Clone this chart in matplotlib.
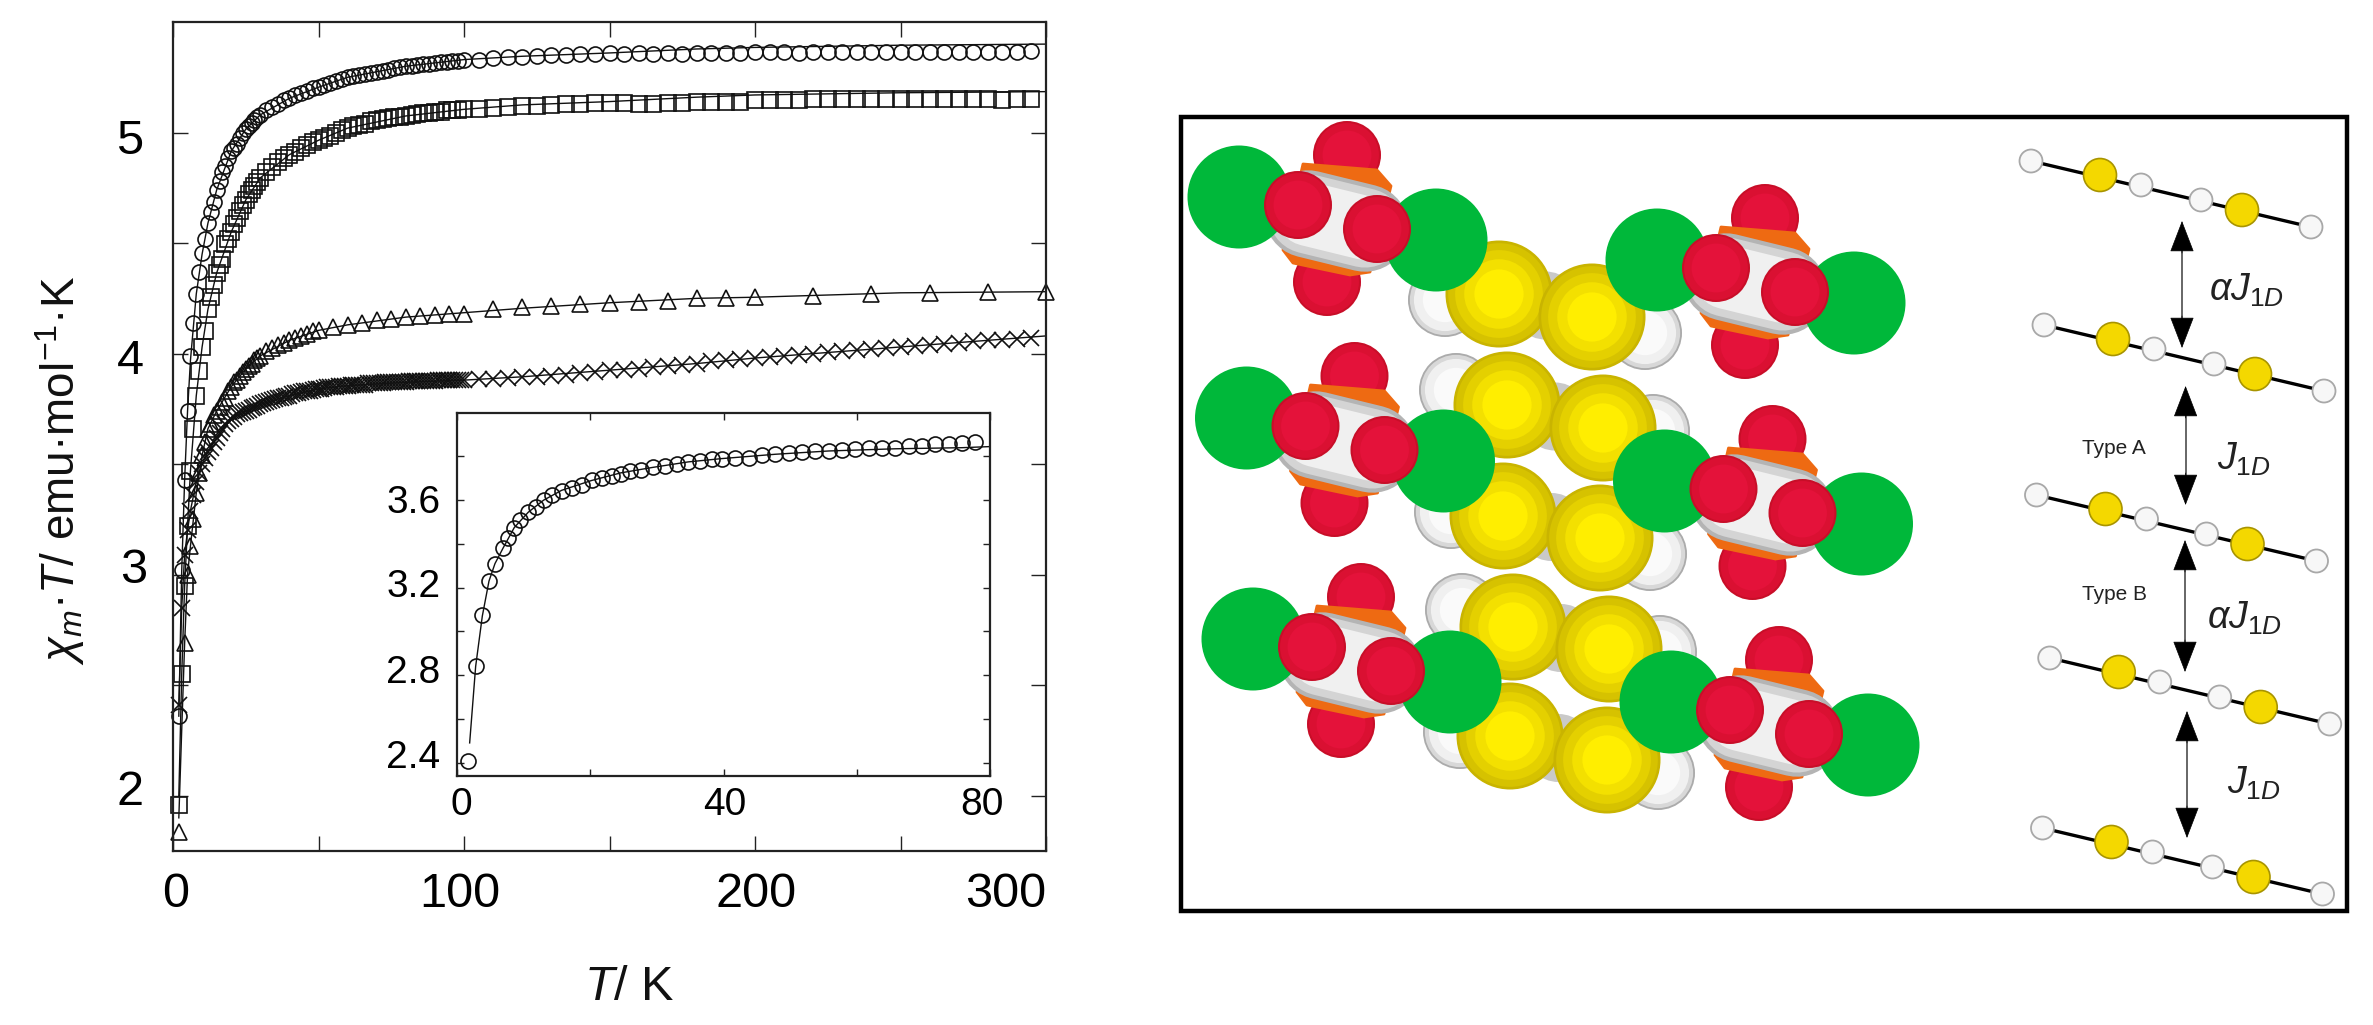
import matplotlib
matplotlib.use('Agg')
import matplotlib.pyplot as plt
from matplotlib.patches import Circle, Polygon, Rectangle, FancyArrowPatch
from matplotlib.transforms import ScaledTranslation

plt.rcParams['font.family'] = ['Liberation Sans', 'DejaVu Sans']
plt.rcParams['mathtext.fontset'] = 'custom'
plt.rcParams['mathtext.rm'] = 'Liberation Sans'
plt.rcParams['mathtext.it'] = 'Liberation Sans:italic'
plt.rcParams['mathtext.bf'] = 'Liberation Sans:bold'

# ---------------- main plot data ----------------
T_low = [2,3,4,5,6,7,8,9,10,11,12,13,14,15,16,17,18,19,20,21,22,23,24,25,26,27,28,29,30,
         32,34,36,38,40,42,44,46,48,50,52,54,56,58,60,62,64,66,68,70,72,74,76,78,80,
         82,84,86,88,90,92,94,96,98,100]
T_high = [105,110,115,120,125,130,135,140,145,150,155,160,165,170,175,180,185,190,195,200,
          205,210,215,220,225,230,235,240,245,250,255,260,265,270,275,280,285,290,295]
circ_low = [2.36,3.02,3.43,3.74,3.99,4.14,4.27,4.37,4.455,4.52,4.59,4.64,4.685,4.74,4.78,4.82,4.85,4.885,4.915,
            4.93,4.95,4.975,5.0,5.015,5.03,5.045,5.055,5.07,5.08,5.10,5.115,5.13,5.145,5.155,5.17,5.18,5.19,5.20,
            5.205,5.215,5.225,5.235,5.24,5.25,5.255,5.26,5.265,5.27,5.275,5.28,5.285,5.29,5.295,5.30,5.30,5.305,
            5.31,5.31,5.315,5.32,5.32,5.325,5.325,5.33]
circ_high = [5.33,5.335,5.34,5.34,5.345,5.35,5.35,5.355,5.355,5.36,5.355,5.36,5.355,5.36,5.355,5.36,5.36,5.36,5.36,
             5.365,5.365,5.365,5.36,5.365,5.365,5.365,5.365,5.365,5.365,5.365,5.365,5.365,5.365,5.365,5.365,5.365,
             5.365,5.365,5.37]
sq_low = [1.96,2.55,2.95,3.22,3.47,3.66,3.81,3.92,4.03,4.10,4.20,4.255,4.31,4.365,4.40,4.43,4.495,4.52,4.55,4.585,
          4.615,4.645,4.67,4.695,4.72,4.74,4.76,4.775,4.795,4.82,4.845,4.865,4.885,4.90,4.91,4.93,4.945,4.955,4.965,
          4.975,4.985,5.0,5.01,5.02,5.03,5.035,5.04,5.05,5.055,5.06,5.065,5.07,5.07,5.075,5.08,5.085,5.09,5.09,5.095,
          5.095,5.10,5.10,5.10,5.105]
sq_high = [5.105,5.11,5.115,5.12,5.12,5.125,5.13,5.13,5.135,5.135,5.135,5.13,5.13,5.135,5.135,5.14,5.14,5.14,5.14,
           5.145,5.145,5.145,5.145,5.15,5.15,5.15,5.15,5.15,5.15,5.15,5.15,5.15,5.15,5.15,5.15,5.15,5.145,5.15,5.15]
cross_low = [2.41,2.85,3.09,3.20,3.29,3.36,3.42,3.46,3.50,3.53,3.555,3.575,3.60,3.62,3.64,3.66,3.68,3.695,3.705,3.715,
             3.725,3.73,3.735,3.74,3.745,3.755,3.76,3.765,3.77,3.78,3.79,3.80,3.805,3.81,3.82,3.825,3.83,3.835,3.84,
             3.845,3.85,3.85,3.855,3.855,3.86,3.86,3.86,3.865,3.865,3.865,3.87,3.87,3.87,3.87,3.875,3.875,3.875,3.875,
             3.875,3.88,3.88,3.88,3.88,3.88]
T_cross_extra = [31,33,35,37,39,41,43,45,47,49,51,53,55,57,59,61,63,65,67,69,71,73,75,77,79,81,83,85,87,89,91,93,95,97,99]
cross_extra = [3.775,3.785,3.795,3.80,3.81,3.815,3.82,3.83,3.83,3.84,3.84,3.85,3.85,3.855,3.855,3.86,3.86,3.86,3.865,
               3.865,3.865,3.87,3.87,3.87,3.87,3.875,3.875,3.875,3.875,3.875,3.88,3.88,3.88,3.88,3.88]
cross_high = [3.885,3.885,3.89,3.895,3.895,3.90,3.905,3.91,3.915,3.925,3.925,3.93,3.94,3.945,3.95,3.955,3.965,3.97,3.975,
              3.98,3.985,3.99,3.995,4.0,4.005,4.01,4.015,4.02,4.025,4.03,4.035,4.04,4.045,4.05,4.055,4.06,4.06,4.065,4.07]
T_tri = [2,4,5,6,7,8,9,10,11,12,13,14,15,16,17,18,19,20,21,22,23,24,25,26,27,28,29,30,32,34,36,38,40,42,44,46,48,50,
         55,60,65,70,75,80,85,90,95,100,110,120,130,140,150,160,170,180,190,200,220,240,260,280,300]
tri_vals = [1.835,2.69,3.00,3.13,3.25,3.37,3.46,3.54,3.60,3.66,3.68,3.72,3.74,3.76,3.78,3.80,3.83,3.85,3.87,3.88,
            3.90,3.915,3.93,3.945,3.955,3.97,3.98,3.99,4.01,4.025,4.04,4.05,4.06,4.07,4.08,4.09,4.10,4.105,
            4.12,4.13,4.14,4.15,4.155,4.165,4.17,4.175,4.18,4.18,4.20,4.21,4.215,4.225,4.23,4.235,4.24,4.25,4.25,
            4.255,4.26,4.27,4.275,4.28,4.28]
T_fit = [2,3,4,5,6,8,10,12,15,20,25,30,40,50,60,80,100,120,150,180,200,250,300]
fit_circ = [2.36,3.02,3.43,3.74,3.97,4.27,4.45,4.59,4.74,4.915,5.015,5.08,5.155,5.205,5.25,5.30,5.33,5.345,5.36,5.378,5.385,5.395,5.40]
fit_sq = [2.0,2.55,2.95,3.22,3.47,3.81,4.03,4.20,4.365,4.55,4.695,4.795,4.90,4.965,5.02,5.075,5.105,5.125,5.14,5.16,5.17,5.18,5.185]
fit_tri = [1.9,2.30,2.69,3.0,3.13,3.37,3.54,3.66,3.74,3.85,3.93,3.99,4.06,4.105,4.13,4.165,4.185,4.205,4.23,4.25,4.255,4.275,4.28]
fit_cross = [2.41,2.85,3.09,3.20,3.29,3.42,3.50,3.555,3.62,3.705,3.74,3.77,3.81,3.84,3.855,3.87,3.88,3.895,3.925,3.955,3.98,4.03,4.08]

# ---------------- inset data ----------------
T_in = [1.7,2.8,3.8,4.8,5.7,6.9,7.7,8.6,9.5,10.7,11.9,13,14.2,15.7,17.2,18.7,20.2,21.7,23.2,24.6,26,27.6,29.4,31.2,33,34.7,
        36.4,38.2,39.7,41.8,43.8,45.8,47.8,49.8,51.8,53.8,55.8,57.8,59.8,61.8,63.8,65.8,67.8,69.8,71.8,73.8,75.8,77.8]
val_in = [2.406,2.84,3.076,3.232,3.31,3.38,3.425,3.475,3.51,3.545,3.57,3.60,3.625,3.64,3.657,3.67,3.69,3.70,3.71,3.72,3.733,
          3.74,3.75,3.755,3.765,3.773,3.78,3.787,3.79,3.795,3.795,3.805,3.81,3.817,3.82,3.825,3.827,3.83,3.835,3.84,3.84,
          3.84,3.85,3.85,3.855,3.857,3.86,3.865]
T_in_fit = [1.9,2.8,3.8,4.8,5.7,6.9,8.6,10.7,13,15.7,20.2,24.6,29.4,34.7,39.7,47.8,55.8,65.8,75.8,80]
val_in_fit = [2.49,2.84,3.07,3.23,3.31,3.38,3.475,3.545,3.60,3.645,3.69,3.725,3.75,3.775,3.79,3.81,3.825,3.835,3.84,3.845]

# ---------------- text ----------------
main_xticks = [0, 100, 200, 300]
main_xminor = [50, 150, 250]
main_yticks = [2, 3, 4, 5]
main_yminor = [2.5, 3.5, 4.5]
in_xticks = [0, 40, 80]
in_xminor = [20, 60]
in_yticks = [2.4, 2.8, 3.2, 3.6]
in_ylabels = ['2.4', '2.8', '3.2', '3.6']
in_yminor = [2.6, 3.0, 3.4, 3.8]
xlabel_text = r'$\mathit{T}$/ K'
ylabel_text = r'$\chi_{\mathit{m}}$·$\mathit{T}$/ emu·mol$^{-1}$·K'

# ---------------- crystal picture (pixel coordinates of the sketch) ----------------
anion_offsets = [(0, 0), (418, 63), (7.5, 221), (425.5, 284), (14, 442), (432, 505)]
red_back = [(1347, 155), (1327, 282)]
red_front = [(1298, 205), (1377, 229)]
greens = [(1239, 197), (1436, 240)]
orange_poly = [(1303, 164), (1377, 170), (1391, 186), (1370, 272), (1350, 275), (1293, 263), (1283, 250)]
body_axis = [(1308, 214), (1365, 228)]
yellow_pairs = [((1499, 294), (1592, 317)), ((1507, 405), (1603, 428)), ((1503, 516), (1600, 538)),
                ((1513, 627), (1609, 649)), ((1510, 736), (1607, 760))]
white_atoms = [(1445, 300), (1645, 333), (1456, 390), (1653, 431), (1451, 512), (1650, 554),
               (1462, 610), (1660, 652), (1460, 732), (1658, 773)]
# chains on the right
chain_offsets = [(0, 0), (13, 164), (5.5, 334), (18.7, 497), (11.5, 667)]
chain_ends = [(2031, 161), (2311, 227)]
chain_yellow = [(2100, 175), (2242, 210)]
chain_white = [(2141, 185), (2201, 200)]
arrows = [(2182, 221, 348), (2185.6, 386, 505), (2185, 540, 672), (2187, 711, 838)]
coupling_labels = [(2246, 290, r'$\alpha\mathit{J}_{\mathit{1D}}$'), (2244, 459, r'$\mathit{J}_{\mathit{1D}}$'),
                   (2244, 618, r'$\alpha\mathit{J}_{\mathit{1D}}$'), (2254, 783, r'$\mathit{J}_{\mathit{1D}}$')]
type_labels = [(2114, 449, 'Type A'), (2114, 595, 'Type B')]

yellow_rings = [(1.0, '#C9B400'), (0.95, '#D6C200'), (0.82, '#E4D000'), (0.65, '#F3E000'), (0.46, '#FFEE00')]
white_rings = [(1.0, '#ABABAB'), (0.95, '#D8D8D8'), (0.84, '#F0F0F0'), (0.6, '#FAFAFA')]
red_rings = [(1.0, '#C80E28'), (0.94, '#DA1032'), (0.72, '#E4123A')]
GREEN = '#00B83A'

W, H = 2373, 1025
fig = plt.figure(figsize=(W / 100, H / 100), dpi=100)


def px_axes(l, t, r, b, **kw):
    return fig.add_axes([l / W, 1 - b / H, (r - l) / W, (b - t) / H], **kw)


def shift(label, dx, dy):
    label.set_transform(label.get_transform() + ScaledTranslation(dx / 100, -dy / 100, fig.dpi_scale_trans))


ax = px_axes(173, 22, 1046, 851)
for vals in (fit_circ, fit_sq, fit_tri, fit_cross):
    ax.plot(T_fit, vals, '-', color='#111111', lw=1.0)
style = dict(ls='none', mfc='none', mec='#111111', mew=1.2, clip_on=False)
ax.plot(T_low + T_high, circ_low + circ_high, marker='o', ms=10.8, **style)
ax.plot(T_low + T_high, sq_low + sq_high, marker='s', ms=11, **style)
ax.plot(T_tri, tri_vals, marker='^', ms=11.5, **style)
ax.plot(T_low + T_cross_extra + T_high, cross_low + cross_extra + cross_high, marker='x', ms=11.5, **style)
ax.set_xlim(0, 300)
ax.set_ylim(1.75, 5.5)
ax.set_xticks(main_xticks)
ax.set_xticks(main_xminor, minor=True)
ax.set_yticks(main_yticks)
ax.set_yticks(main_yminor, minor=True)
ax.tick_params(which='both', direction='in', top=True, right=True, length=11, width=1.0, color='#222222')
ax.tick_params(axis='x', which='major', labelsize=35, pad=15)
ax.tick_params(axis='y', which='major', labelsize=35, pad=20)
for s in ax.spines.values():
    s.set_linewidth(1.6)
    s.set_color('#222222')
for lab, dx in zip(ax.get_xticklabels(), [3, -4, 1, -40]):
    shift(lab, dx, 0)
for lab, (dx, dy) in zip(ax.get_yticklabels(), [(-2, -8), (2, -9), (-1, 3), (-2, 4)]):
    shift(lab, dx, dy)

ins = px_axes(457, 412.7, 990, 775.7)
ins.plot(T_in_fit, val_in_fit, '-', color='#111111', lw=1.0)
ins.plot(T_in, val_in, marker='o', ms=10.8, **style)
ins.set_xlim(0, 80)
ins.set_ylim(2.34, 4.0)
ins.set_xticks(in_xticks)
ins.set_xticks(in_xminor, minor=True)
ins.set_yticks(in_yticks)
ins.set_yticklabels(in_ylabels)
ins.set_yticks(in_yminor, minor=True)
ins.tick_params(which='both', direction='in', top=True, right=True, length=5, width=1.0, color='#222222')
ins.tick_params(axis='x', which='major', labelsize=28, pad=8)
ins.tick_params(axis='y', which='major', labelsize=28, pad=12)
for s in ins.spines.values():
    s.set_linewidth(1.6)
    s.set_color('#222222')
for lab, dx in zip(ins.get_xticklabels(), [4, 1, -8]):
    shift(lab, dx, 0)
for lab, dy in zip(ins.get_yticklabels(), [-9, -6, -5, -1]):
    shift(lab, 0, dy)

# overlay in pixel coordinates
ov = fig.add_axes([0, 0, 1, 1], facecolor='none')
ov.set_xlim(0, W)
ov.set_ylim(H, 0)
ov.axis('off')
ov.text(629, 987, xlabel_text, fontsize=35, ha='center', va='center', color='#111111')
ov.text(60, 470, ylabel_text, fontsize=33, ha='center', va='center', rotation=90, color='#111111')

ov.add_patch(Rectangle((1181, 117), 1166, 794, fc='white', ec='black', lw=3.2, zorder=1))


def shaded(x, y, r, rings, z):
    for frac, col in rings:
        ov.add_patch(Circle((x, y), r * frac, fc=col, ec='none', zorder=z))


for (x, y) in white_atoms:
    shaded(x, y, 37, white_rings, 2)
for a, b in yellow_pairs:
    ov.add_patch(Circle(((a[0] + b[0]) / 2, (a[1] + b[1]) / 2), 34, fc='#C9C9C9', ec='none', zorder=3))
for a, b in yellow_pairs:
    for p in (a, b):
        shaded(p[0], p[1], 53.5, yellow_rings, 4)

for dx, dy in anion_offsets:
    z = 5
    for x, y in red_back:
        shaded(x + dx, y + dy, 34, red_rings, z)
    ov.add_patch(Polygon([(x + dx, y + dy) for x, y in orange_poly], fc='#EE6A12', ec='#EE6A12', lw=2,
                         joinstyle='round', zorder=z + 1))
    bx = [p[0] + dx for p in body_axis]
    by = [p[1] + dy for p in body_axis]
    for width, col in [(63, '#B4B4B4'), (57, '#D4D4D4'), (46, '#F0F0F0')]:
        ov.plot(bx, by, '-', color=col, lw=width, solid_capstyle='round', zorder=z + 2)
    for x, y in greens:
        ov.add_patch(Circle((x + dx, y + dy), 51.5, fc=GREEN, ec='none', zorder=z + 3))
    for x, y in red_front:
        shaded(x + dx, y + dy, 34, red_rings, z + 4)

for dx, dy in chain_offsets:
    ends = [(x + dx, y + dy) for x, y in chain_ends]
    ov.plot([e[0] for e in ends], [e[1] for e in ends], '-', color='black', lw=2.4, zorder=10, solid_capstyle='butt')
    for x, y in chain_ends + chain_white:
        ov.add_patch(Circle((x + dx, y + dy), 11.5, fc='#F7F7F7', ec='#A8A8A8', lw=1.3, zorder=11))
    for x, y in chain_yellow:
        ov.add_patch(Circle((x + dx, y + dy), 16.5, fc='#F4D800', ec='#A89400', lw=1.2, zorder=11))

for x, y0, y1 in arrows:
    ov.plot([x, x], [y0 + 20, y1 - 20], '-', color='#666666', lw=1.4, zorder=10)
    ov.add_patch(FancyArrowPatch((x, y0 + 32), (x, y0), arrowstyle='-|>,head_length=1.3,head_width=0.5', mutation_scale=16,
                                 fc='black', ec='black', lw=0.5, shrinkA=0, shrinkB=0, zorder=12))
    ov.add_patch(FancyArrowPatch((x, y1 - 32), (x, y1), arrowstyle='-|>,head_length=1.3,head_width=0.5', mutation_scale=16,
                                 fc='black', ec='black', lw=0.5, shrinkA=0, shrinkB=0, zorder=12))
for x, y, s in coupling_labels:
    ov.text(x, y, s, fontsize=27, ha='center', va='center', color='#222222', zorder=12)
for x, y, s in type_labels:
    ov.text(x, y, s, fontsize=15, ha='center', va='center', color='#222222', zorder=12)

fig.savefig('out.png', dpi=100)
